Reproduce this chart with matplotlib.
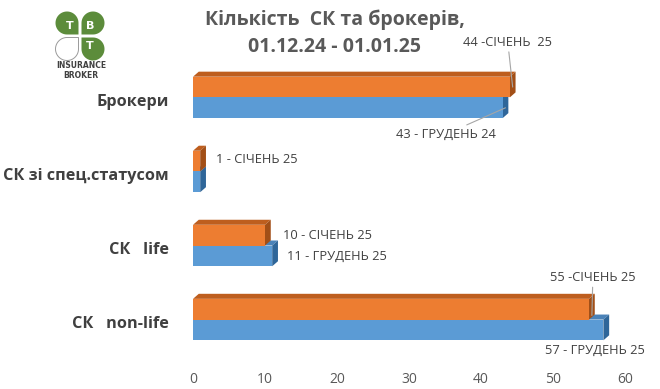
import numpy as np
import matplotlib.pyplot as plt
from matplotlib.patches import Polygon

categories = ["СК   non-life", "СК   life", "СК зі спец.статусом", "Брокери"]
jan_values = [55, 10, 1, 44]   # СІЧЕНЬ 25
dec_values = [57, 11, 1, 43]   # ГРУДЕНЬ 24
jan_labels = ["55 -СІЧЕНЬ 25", "10 - СІЧЕНЬ 25", "1 - СІЧЕНЬ 25", "44 -СІЧЕНЬ  25"]
dec_labels = ["57 - ГРУДЕНЬ 25", "11 - ГРУДЕНЬ 25", None, "43 - ГРУДЕНЬ 24"]
x_ticks = [0, 10, 20, 30, 40, 50, 60]

ORANGE = ("#ED7D31", "#BE5E1E", "#A24F17")
BLUE = ("#5B9BD5", "#4A82B8", "#2F6699")
TEXT = "#404040"
GRAY = "#595959"

plt.rcParams["font.family"] = ["Open Sans", "DejaVu Sans"]


def bar3d(ax, y0, v, h, colors, dx, dy):
    front, top, side = colors
    ax.add_patch(Polygon([(0, y0 + h), (v, y0 + h), (v + dx, y0 + h + dy), (dx, y0 + h + dy)],
                         closed=True, facecolor=top, edgecolor="none"))
    ax.add_patch(Polygon([(v, y0), (v + dx, y0 + dy), (v + dx, y0 + h + dy), (v, y0 + h)],
                         closed=True, facecolor=side, edgecolor="none"))
    ax.barh(y0 + h / 2, v, height=h, color=front, edgecolor="none")


def leaf(cx, cy, sx, sy, s, g):
    th = np.linspace(-np.pi / 2, np.pi, 40)
    u = [0, s / 2] + list(s / 2 + s / 2 * np.cos(th)) + [0, 0]
    v = [0, 0] + list(s / 2 + s / 2 * np.sin(th)) + [s / 2, 0]
    return [(cx + sx * (g + a), cy + sy * (g + b)) for a, b in zip(u, v)]


def main():
    fig = plt.figure(figsize=(6.6, 3.89), dpi=100)
    ax = fig.add_axes([193 / 660, 1 - 364 / 389, (625 - 193) / 660, (364 - 53) / 389])
    ax.set_xlim(0, 60)
    ax.set_ylim(-0.6, 3.6)

    h = 0.28
    dx, dy = 0.8, 0.068
    pos = np.arange(len(categories))

    for i in pos:
        bar3d(ax, i - h, dec_values[i], h, BLUE, dx, dy)
        bar3d(ax, i, jan_values[i], h, ORANGE, dx, dy)
        ax.text(-3.4, i - 0.06, categories[i], ha="right", va="center",
                fontsize=11.7, fontweight="bold", color=TEXT)

    line = dict(arrowstyle="-", color="#A6A6A6", lw=0.8, shrinkA=0, shrinkB=0)
    lab = dict(fontsize=9.3, color=TEXT, textcoords="offset points")

    # Брокери
    ax.annotate(jan_labels[3], xy=(jan_values[3] + dx / 2, 3 + h / 2), xytext=(-3.5, 32),
                ha="center", va="center", arrowprops=line, **lab)
    ax.annotate(dec_labels[3], xy=(dec_values[3] + dx / 2, 3 - h / 2), xytext=(-43, -19),
                ha="center", va="center", arrowprops=line, **lab)
    # спец.статус
    ax.annotate(jan_labels[2], xy=(jan_values[2] + dx, 2 + h / 2), xytext=(7, 1),
                ha="left", va="center", **lab)
    # life
    ax.annotate(jan_labels[1], xy=(jan_values[1] + dx, 1 + h / 2), xytext=(9, 0),
                ha="left", va="center", **lab)
    ax.annotate(dec_labels[1], xy=(dec_values[1] + dx, 1 - h / 2), xytext=(6.5, 0),
                ha="left", va="center", **lab)
    # non-life
    ax.annotate(jan_labels[0], xy=(jan_values[0] + dx / 2, 0 + h * 0.2), xytext=(0.7, 27),
                ha="center", va="center", arrowprops=line, **lab)
    ax.annotate(dec_labels[0], xy=(dec_values[0] + dx / 2, 0 - h / 2), xytext=(-8, -14.5),
                ha="center", va="center", **lab)

    ax.set_xticks(x_ticks)
    ax.set_yticks([])
    ax.tick_params(axis="x", length=0, pad=6, labelsize=10, labelcolor=GRAY)
    for sp in ax.spines.values():
        sp.set_visible(False)

    fig.text(335 / 660, 1 - 33 / 389, "Кількість  СК та брокерів,\n01.12.24 - 01.01.25",
             ha="center", va="center", fontsize=14, fontweight="bold", color=GRAY,
             linespacing=1.45)

    # logo
    lg = fig.add_axes([0, 0, 1, 1], facecolor="none")
    lg.set_xlim(0, 660)
    lg.set_ylim(389, 0)
    lg.axis("off")
    cx, cy, s, g = 80, 36, 23, 1.5
    green = "#5C8C3B"
    for sx, sy, letter in [(-1, -1, "T"), (1, -1, "B"), (1, 1, "T"), (-1, 1, None)]:
        pts = leaf(cx, cy, sx, sy, s, g)
        if letter:
            lg.add_patch(Polygon(pts, closed=True, facecolor=green, edgecolor="none"))
            lg.text(cx + sx * (g + s * 0.36), cy + sy * (g + s * 0.36), letter,
                    ha="center", va="center", fontsize=8, fontweight="bold", color="white",
                    family="DejaVu Sans")
        else:
            lg.add_patch(Polygon(pts, closed=True, facecolor="white", edgecolor="#9A9A9A", lw=0.7))
    lg.text(81, 65, "INSURANCE", ha="center", va="center", fontsize=5.5, fontweight="bold",
            color=TEXT, family="DejaVu Sans")
    lg.text(81, 75, "BROKER", ha="center", va="center", fontsize=5.5, fontweight="bold",
            color=TEXT, family="DejaVu Sans")

    fig.savefig("out.png", dpi=100)
    plt.close(fig)


if __name__ == "__main__":
    main()
